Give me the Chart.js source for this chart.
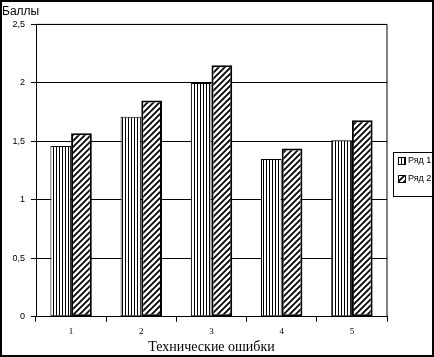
<!DOCTYPE html>
<html>
<head>
<meta charset="utf-8">
<script src="https://cdn.jsdelivr.net/npm/chart.js@4"></script>
<style>
  body { margin: 0; background: #fff; }
  #wrap { width: 434px; height: 357px; box-sizing: border-box; border: 2px solid #000; position: relative; }
</style>
</head>
<body>
<div id="wrap"><canvas id="graf" width="430" height="353"></canvas></div>
<script>
const categorias = ['1', '2', '3', '4', '5']
const ryad1 = [1.46, 1.71, 2.0, 1.35, 1.51]
const ryad2 = [1.57, 1.85, 2.15, 1.44, 1.68]
const nombres = ['Ряд 1', 'Ряд 2']

const graf = document.getElementById('graf')

function rayasVerticales() {
  const c = document.createElement('canvas')
  c.width = 3; c.height = 4
  const x = c.getContext('2d')
  x.fillStyle = '#fff'
  x.fillRect(0, 0, 3, 4)
  x.fillStyle = '#000'
  x.fillRect(0, 0, 1, 4)
  return x.createPattern(c, 'repeat')
}

function rayasDiagonales() {
  const c = document.createElement('canvas')
  c.width = 6; c.height = 6
  const x = c.getContext('2d')
  x.fillStyle = '#fff'
  x.fillRect(0, 0, 6, 6)
  x.strokeStyle = '#000'
  x.lineWidth = 1.8
  x.beginPath()
  x.moveTo(-1, 7); x.lineTo(7, -1)
  x.moveTo(-4, 4); x.lineTo(4, -4)
  x.moveTo(2, 10); x.lineTo(10, 2)
  x.stroke()
  return x.createPattern(c, 'repeat')
}

const patron1 = rayasVerticales()
const patron2 = rayasDiagonales()

// leyenda dibujada a mano con borde
const leyenda = {
  id: 'leyenda',
  afterDraw(chart) {
    const ctx = chart.ctx
    ctx.save()
    ctx.strokeStyle = '#000'
    ctx.lineWidth = 1
    ctx.strokeRect(391.5, 150.5, 45, 44)
    ctx.font = '9px "Liberation Sans Narrow", "Liberation Sans", sans-serif'
    ctx.textBaseline = 'middle'
    chart.data.datasets.forEach((ds, i) => {
      const y = 159 + i * 18
      ctx.fillStyle = ds.backgroundColor
      ctx.fillRect(396, y - 4, 8, 8)
      ctx.strokeStyle = '#000'
      ctx.lineWidth = 1
      ctx.strokeRect(396.5, y - 3.5, 7, 7)
      ctx.fillStyle = '#000'
      ctx.fillText(ds.label, 406, y)
    })
    ctx.restore()
  }
}

// borde del area de datos
const marco = {
  id: 'marco',
  beforeDatasetsDraw(chart) {
    const a = chart.chartArea
    const ctx = chart.ctx
    ctx.save()
    ctx.strokeStyle = '#000'
    ctx.lineWidth = 1
    ctx.beginPath()
    ctx.moveTo(a.left, a.top)
    ctx.lineTo(a.right, a.top)
    ctx.lineTo(a.right, a.bottom)
    ctx.stroke()
    ctx.restore()
  }
}

new Chart(graf, {
  type: 'bar',
  data: {
    labels: categorias,
    datasets: [{
      label: nombres[0],
      data: ryad1,
      backgroundColor: patron1,
      borderColor: '#000',
      borderWidth: 1,
      borderSkipped: false
    }, {
      label: nombres[1],
      data: ryad2,
      backgroundColor: patron2,
      borderColor: '#000',
      borderWidth: 2,
      borderSkipped: false
    }]
  },
  options: {
    responsive: false,
    animation: false,
    layout: { padding: { left: 0, right: 45, top: 2, bottom: 0 } },
    plugins: {
      legend: { display: false },
      tooltip: { enabled: false },
      title: {
        display: true,
        text: 'Баллы',
        align: 'start',
        color: '#000',
        font: { family: '"Liberation Sans Narrow", "Liberation Sans", sans-serif', size: 12, weight: 'normal' },
        padding: { top: 0, bottom: 6 }
      }
    },
    datasets: {
      bar: { categoryPercentage: 0.59, barPercentage: 1 }
    },
    scales: {
      x: {
        grid: { display: true, drawOnChartArea: false, offset: true, color: '#000', tickLength: 5 },
        border: { color: '#000', width: 1 },
        ticks: { color: '#000', font: { family: '"Liberation Serif", serif', size: 9 }, padding: 4 },
        title: {
          display: true,
          text: 'Технические ошибки',
          color: '#000',
          font: { family: '"Liberation Serif", serif', size: 14, lineHeight: 1.1 },
          padding: { top: -1, bottom: 0 }
        }
      },
      y: {
        min: 0,
        max: 2.5,
        afterFit(scale) { scale.width = 34 },
        grid: { color: '#000', lineWidth: 1, tickLength: 5 },
        border: { color: '#000', width: 1 },
        ticks: {
          stepSize: 0.5,
          color: '#000',
          padding: 6,
          font: { family: '"Liberation Sans Narrow", "Liberation Sans", sans-serif', size: 9 },
          callback: v => String(v).replace('.', ',')
        }
      }
    }
  },
  plugins: [marco, leyenda]
})
</script>
</body>
</html>
